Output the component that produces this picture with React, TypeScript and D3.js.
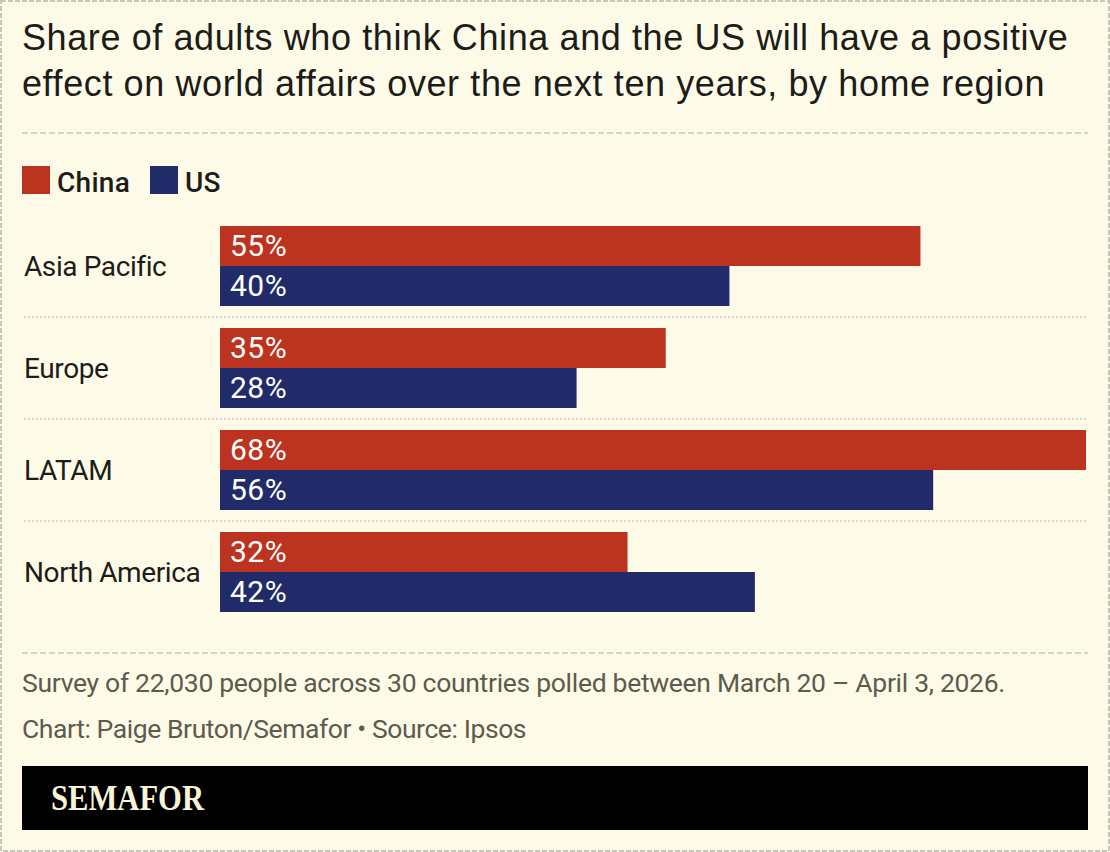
import React, { useEffect, useRef } from "react";
import * as d3 from "d3";

const regions = ["Asia Pacific", "Europe", "LATAM", "North America"];
const seriesNames = ["China", "US"];
const chinaValues = [55, 35, 68, 32];
const usValues = [40, 28, 56, 42];
const titleLines = [
  "Share of adults who think China and the US will have a positive",
  "effect on world affairs over the next ten years, by home region",
];
const footerLines = [
  "Survey of 22,030 people across 30 countries polled between March 20 – April 3, 2026.",
  "Chart: Paige Bruton/Semafor • Source: Ipsos",
];

const WIDTH = 1110;
const HEIGHT = 852;
const BODY_FONT = "Roboto, sans-serif";
const TITLE_FONT = "'Liberation Sans', Arial, sans-serif";
const colors = ["#bc331f", "#212b6a"];

export default function App() {
  const svgRef = useRef<SVGSVGElement>(null);

  useEffect(() => {
    document.body.style.margin = "0";
    const svg = d3.select(svgRef.current);
    svg.selectAll("*").remove();

    // Background and dashed frame
    svg.append("rect").attr("width", WIDTH).attr("height", HEIGHT).attr("fill", "#fefae8");
    svg
      .append("rect")
      .attr("x", 1)
      .attr("y", 1)
      .attr("width", WIDTH - 2)
      .attr("height", HEIGHT - 2)
      .attr("fill", "none")
      .attr("stroke", "#c9c7b8")
      .attr("stroke-width", 2)
      .attr("stroke-dasharray", "5 2");

    // Title
    svg
      .selectAll(".title")
      .data(titleLines)
      .join("text")
      .attr("x", 22)
      .attr("y", (_, i) => 50 + i * 46)
      .attr("font-family", TITLE_FONT)
      .attr("font-size", 36)
      .attr("letter-spacing", 0.6)
      .attr("fill", "#1c1c18")
      .text((d) => d);

    // Dashed rules above legend and footer
    [133, 653].forEach((y) => {
      svg
        .append("line")
        .attr("x1", 22)
        .attr("x2", 1088)
        .attr("y1", y)
        .attr("y2", y)
        .attr("stroke", "#c9c7b8")
        .attr("stroke-width", 1.5)
        .attr("stroke-dasharray", "6 3");
    });

    // Legend
    const legendX = [22, 150];
    seriesNames.forEach((name, i) => {
      const g = svg.append("g").attr("transform", `translate(${legendX[i]},166)`);
      g.append("rect").attr("width", 28).attr("height", 28).attr("fill", colors[i]);
      g.append("text")
        .attr("x", 35)
        .attr("y", 26)
        .attr("font-family", BODY_FONT)
        .attr("font-weight", 500)
        .attr("font-size", 28)
        .attr("letter-spacing", 0.3)
        .attr("fill", "#1c1c18")
        .text(name);
    });

    // Scales
    const x = d3.scaleLinear().domain([0, 68]).range([220, 1086]);
    const y = d3
      .scaleBand()
      .domain(regions)
      .range([215, 623])
      .paddingInner(22 / 102)
      .paddingOuter(11 / 102);
    const ySeries = d3.scaleBand().domain(seriesNames).range([0, y.bandwidth()]);

    // Dotted separators between groups
    regions.slice(1).forEach((r) => {
      const sepY = (y(r) as number) - 11;
      svg
        .append("line")
        .attr("x1", 24)
        .attr("x2", 1086)
        .attr("y1", sepY)
        .attr("y2", sepY)
        .attr("stroke", "#cfcdbd")
        .attr("stroke-width", 1.5)
        .attr("stroke-dasharray", "2 2");
    });

    // Rows
    regions.forEach((region, i) => {
      const row = svg.append("g").attr("transform", `translate(0,${y(region)})`);
      row
        .append("text")
        .attr("x", 24)
        .attr("y", y.bandwidth() / 2 + 10)
        .attr("font-family", BODY_FONT)
        .attr("font-size", 28)
        .attr("letter-spacing", -0.4)
        .attr("fill", "#1c1c18")
        .text(region);

      [chinaValues[i], usValues[i]].forEach((value, s) => {
        const name = seriesNames[s];
        row
          .append("rect")
          .attr("x", x(0))
          .attr("y", ySeries(name) as number)
          .attr("width", x(value) - x(0))
          .attr("height", ySeries.bandwidth())
          .attr("fill", colors[s]);
        row
          .append("text")
          .attr("x", x(0) + 10)
          .attr("y", (ySeries(name) as number) + ySeries.bandwidth() / 2 + 10)
          .attr("font-family", BODY_FONT)
          .attr("font-size", 30)
          .attr("letter-spacing", 0.5)
          .attr("fill", "#ffffff")
          .text(`${value}%`);
      });
    });

    // Footer notes
    svg
      .selectAll(".note")
      .data(footerLines)
      .join("text")
      .attr("x", 22)
      .attr("y", (_, i) => 692 + i * 46)
      .attr("font-family", BODY_FONT)
      .attr("font-size", 26.5)
      .attr("letter-spacing", (_, i) => (i === 0 ? -0.3 : -0.42))
      .attr("fill", "#5c5b4e")
      .text((d) => d);

    // Logo bar
    svg.append("rect").attr("x", 22).attr("y", 766).attr("width", 1066).attr("height", 64).attr("fill", "#000");
    svg
      .append("text")
      .attr("x", 51)
      .attr("y", 810)
      .attr("font-family", "'Liberation Serif', serif")
      .attr("font-weight", 700)
      .attr("font-size", 36)
      .attr("textLength", 153)
      .attr("lengthAdjust", "spacingAndGlyphs")
      .attr("fill", "#f8f4d8")
      .text("SEMAFOR");
  }, []);

  return <svg ref={svgRef} width={WIDTH} height={HEIGHT} style={{ display: "block" }}></svg>;
}
